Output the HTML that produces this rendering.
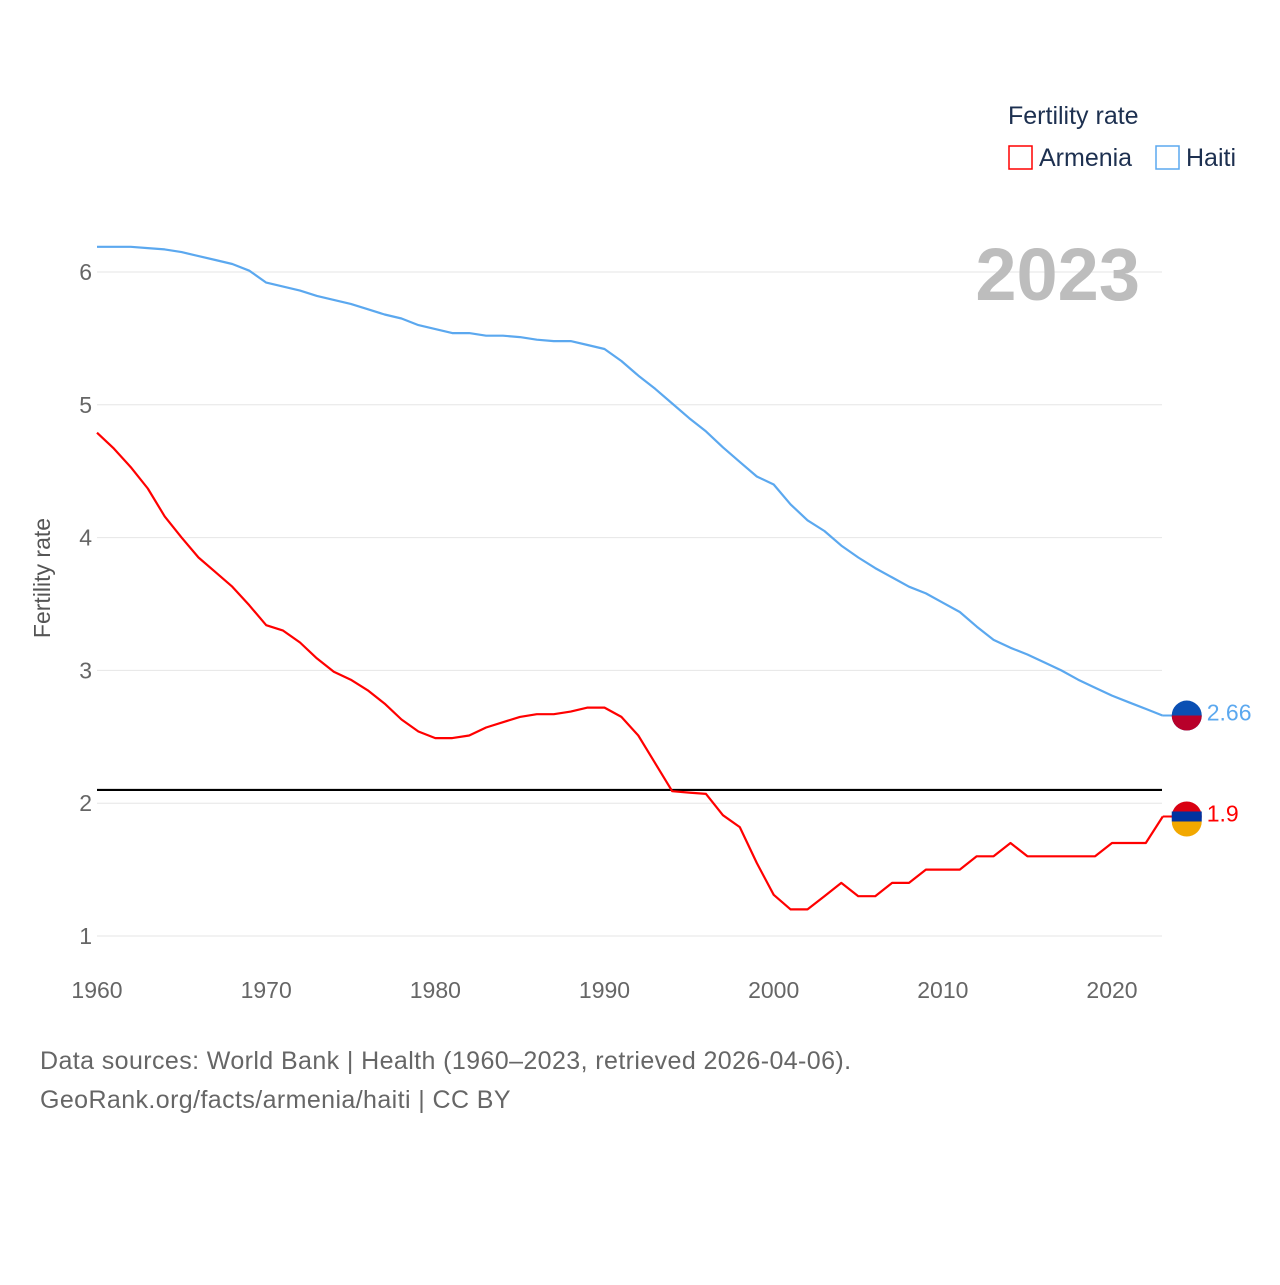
<!DOCTYPE html>
<html><head><meta charset="utf-8">
<style>
body{margin:0;background:#fff;font-family:"Liberation Sans",sans-serif;}
svg text{font-family:"Liberation Sans",sans-serif;}
</style></head>
<body>
<svg id="chart" width="1280" height="1280" viewBox="0 0 1280 1280" xmlns="http://www.w3.org/2000/svg">
<rect width="1280" height="1280" fill="#fff"/>
<g id="grid"></g>
<g id="axes"></g>
<g id="lines"></g>
<text x="1140" y="300" text-anchor="end" font-size="74" font-weight="bold" fill="#bdbdbd">2023</text>
<text x="1008" y="124" font-size="25" fill="#1d3050">Fertility rate</text>
<rect x="1009" y="146" width="23" height="23" fill="none" stroke="#ff0000" stroke-width="1.5"/>
<text x="1039" y="166" font-size="25" fill="#1d3050">Armenia</text>
<rect x="1156" y="146" width="23" height="23" fill="none" stroke="#5ba8ef" stroke-width="1.5"/>
<text x="1186" y="166" font-size="25" fill="#1d3050">Haiti</text>
<text transform="translate(50,578) rotate(-90)" text-anchor="middle" font-size="23" fill="#555">Fertility rate</text>
<text x="40" y="1069" font-size="25" letter-spacing="0.4" fill="#666">Data sources: World Bank | Health (1960–2023, retrieved 2026-04-06).</text>
<text x="40" y="1108" font-size="25" letter-spacing="0.4" fill="#666">GeoRank.org/facts/armenia/haiti | CC BY</text>
</svg>
<script>
const years = [];for(let y=1960;y<=2023;y++)years.push(y);
const haiti = [6.19,6.19,6.19,6.18,6.17,6.15,6.12,6.09,6.06,6.01,5.92,5.89,5.86,5.82,5.79,5.76,5.72,5.68,5.65,5.60,5.57,5.54,5.54,5.52,5.52,5.51,5.49,5.48,5.48,5.45,5.42,5.33,5.22,5.12,5.01,4.90,4.80,4.68,4.57,4.46,4.40,4.25,4.13,4.05,3.94,3.85,3.77,3.70,3.63,3.58,3.51,3.44,3.33,3.23,3.17,3.12,3.06,3.00,2.93,2.87,2.81,2.76,2.71,2.66];
const armenia = [4.79,4.67,4.53,4.37,4.16,4.00,3.85,3.74,3.63,3.49,3.34,3.30,3.21,3.09,2.99,2.93,2.85,2.75,2.63,2.54,2.49,2.49,2.51,2.57,2.61,2.65,2.67,2.67,2.69,2.72,2.72,2.65,2.51,2.30,2.09,2.08,2.07,1.91,1.82,1.55,1.31,1.20,1.20,1.30,1.40,1.30,1.30,1.40,1.40,1.50,1.50,1.50,1.60,1.60,1.70,1.60,1.60,1.60,1.60,1.60,1.70,1.70,1.70,1.90];
const yTicks = [1,2,3,4,5,6];
const xTicks = [1960,1970,1980,1990,2000,2010,2020];
const refLine = 2.1;
const NS='http://www.w3.org/2000/svg';
const X=y=>97+(y-1960)*(1112-97)/60;
const Y=v=>936-(v-1)*132.8;
function mk(tag,attrs,parent,text){const e=document.createElementNS(NS,tag);for(const k in attrs)e.setAttribute(k,attrs[k]);if(text!==undefined)e.textContent=text;document.getElementById(parent).appendChild(e);return e;}
yTicks.forEach(t=>{
 const l=mk('line',{x1:97,x2:1162,y1:Y(t),y2:Y(t),stroke:'#e6e6e6','stroke-width':1},'grid');
 
 
 const tx=mk('text',{x:92,y:Y(t)+8,'text-anchor':'end','font-size':23,fill:'#666'},'axes',String(t));
 
 
});
xTicks.forEach(t=>{
 const tx=mk('text',{x:X(t),y:998,'text-anchor':'middle','font-size':23,fill:'#666'},'axes',String(t));
 
 
});
const rl=mk('line',{x1:97,x2:1162,y1:Y(refLine),y2:Y(refLine),stroke:'#000','stroke-width':2.2},'lines');


function series(vals,color,name){
 const d=vals.map((v,i)=>(i?'L':'M')+X(years[i]).toFixed(1)+','+Y(v).toFixed(1)).join('');
 const p=mk('path',{d:d,fill:'none',stroke:color,'stroke-width':2.2,'stroke-linejoin':'round'},'lines');
 
 
 const lv=vals[vals.length-1],lx=X(years[years.length-1]);
 const c=mk('line',{x1:lx,x2:lx+24,y1:Y(lv),y2:Y(lv),stroke:color,'stroke-width':2},'lines');
 
 
 const g=mk('circle',{cx:lx+24,cy:Y(lv),r:15,fill:name==='haiti'?'#0a4fb3':'#d90012'},'lines');
 
 
 const lab=mk('text',{x:lx+44,y:Y(lv)+5,'font-size':23,fill:color},'lines',String(lv));
 
 
}
series(haiti,'#5ba8ef','haiti');
series(armenia,'#ff0000','armenia');
const hx=X(2023)+24;
const h2=mk('path',{d:`M${hx-15},${Y(2.66)} A15,15 0 0 0 ${hx+15},${Y(2.66)} Z`,fill:'#b8002a'},'lines');


const a2=mk('path',{d:`M${hx-15},${Y(1.9)+5} A15,15 0 0 0 ${hx+15},${Y(1.9)+5} Z`,fill:'#f2a800'},'lines');


const a3=mk('rect',{x:hx-15,y:Y(1.9)-5,width:30,height:10,fill:'#0033a0'},'lines');


</script>
</body></html>
